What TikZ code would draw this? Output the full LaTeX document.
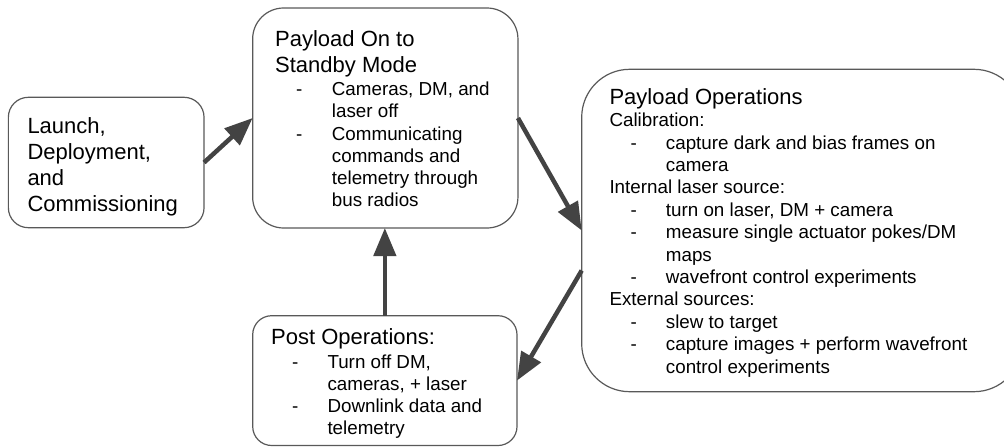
\documentclass[tikz,border=0pt]{standalone}
\usepackage{fontspec}
\setmainfont{Liberation Sans}
\usetikzlibrary{arrows.meta,calc}
\definecolor{boxline}{HTML}{595959}
\definecolor{arrowcol}{HTML}{434343}
\newcommand{\ttlfont}{\fontsize{22}{26}\selectfont}
\newcommand{\itmfont}{\fontsize{18.8}{22.4}\selectfont}
\tikzset{
  box/.style={draw=boxline, line width=1.2pt, fill=white, inner sep=0pt, outer sep=0pt},
  ttl/.style={anchor=base west, inner sep=0pt, font=\ttlfont},
  itm/.style={anchor=base west, inner sep=0pt, font=\itmfont},
  arr/.style={draw=arrowcol, line width=4.5pt, -{Triangle[length=28pt,width=22pt]}, fill=arrowcol}
}
\begin{document}
\begin{tikzpicture}[x=1pt,y=-1pt]
\useasboundingbox (0,0) rectangle (1004,447);
\clip (0,0) rectangle (1004,447);
% boxes
\node[box, minimum width=195.7pt, minimum height=130.4pt, rounded corners=20pt] (launch) at (106.2,162.5) {};
\node[box, minimum width=265.3pt, minimum height=220pt, rounded corners=31pt] (standby) at (385.3,118) {};
\node[box, minimum width=440.3pt, minimum height=322.4pt, rounded corners=48pt] (ops) at (801.85,230.5) {};
\node[box, minimum width=264.3pt, minimum height=129.8pt, rounded corners=19pt] (post) at (384.85,380.6) {};
% arrows
\draw[arr] (launch.east) -- (standby.west);
\draw[arr] (standby.east) -- (ops.west);
\draw[arr] ($(ops.west)+(0,40)$) -- (post.east);
\draw[arr] (post.north) -- (post.north |- standby.south);
% launch text
\node[ttl] (l1) at (27.3,133.3) {Launch,};
\node[ttl] (l2) at (27.3,159.3) {Deployment,};
\node[ttl] (l3) at (27.3,185.3) {and};
\node[ttl] (l4) at (27.3,211.3) {Commissioning};
% standby text
\node[ttl] (s1) at (275,46.7) {Payload On to};
\node[ttl] (s2) at (275,72.7) {Standby Mode};
\node[itm] (sd1) at (296,95) {-};
\node[itm] (sd2) at (296,140) {-};
\node[itm] (s3) at (331.7,95) {Cameras, DM, and};
\node[itm] (s4) at (331.7,117.3) {laser off};
\node[itm] (s5) at (331.7,140) {Communicating};
\node[itm] (s6) at (331.7,162.3) {commands and};
\node[itm] (s7) at (331.7,184.6) {telemetry through};
\node[itm] (s8) at (331.7,206.9) {bus radios};
% ops text
\node[ttl] (o1) at (609.3,104.3) {Payload Operations};
\node[itm] (o2) at (609.3,126.7) {Calibration:};
\node[itm] (o5) at (609.3,193.9) {Internal laser source:};
\node[itm] (o10) at (609.3,305.9) {External sources:};
\node[itm] (od1) at (630.5,149.1) {-};
\node[itm] (od2) at (630.5,216.3) {-};
\node[itm] (od3) at (630.5,238.7) {-};
\node[itm] (od4) at (630.5,283.5) {-};
\node[itm] (od5) at (630.5,328.3) {-};
\node[itm] (od6) at (630.5,350.7) {-};
\node[itm] (o3) at (665.7,149.1) {capture dark and bias frames on};
\node[itm] (o4) at (665.7,171.5) {camera};
\node[itm] (o6) at (665.7,216.3) {turn on laser, DM + camera};
\node[itm] (o7) at (665.7,238.7) {measure single actuator pokes/DM};
\node[itm] (o8) at (665.7,261.1) {maps};
\node[itm] (o9) at (665.7,283.5) {wavefront control experiments};
\node[itm] (o11) at (665.7,328.3) {slew to target};
\node[itm] (o12) at (665.7,350.7) {capture images + perform wavefront};
\node[itm] (o13) at (665.7,373.1) {control experiments};
% post text
\node[ttl] (p1) at (271,344) {Post Operations:};
\node[itm] (pd1) at (292,368.3) {-};
\node[itm] (pd2) at (292,412.3) {-};
\node[itm] (p2) at (327.3,368.3) {Turn off DM,};
\node[itm] (p3) at (327.3,390.3) {cameras, + laser};
\node[itm] (p4) at (327.3,412.3) {Downlink data and};
\node[itm] (p5) at (327.3,434.3) {telemetry};
\end{tikzpicture}
\end{document}
